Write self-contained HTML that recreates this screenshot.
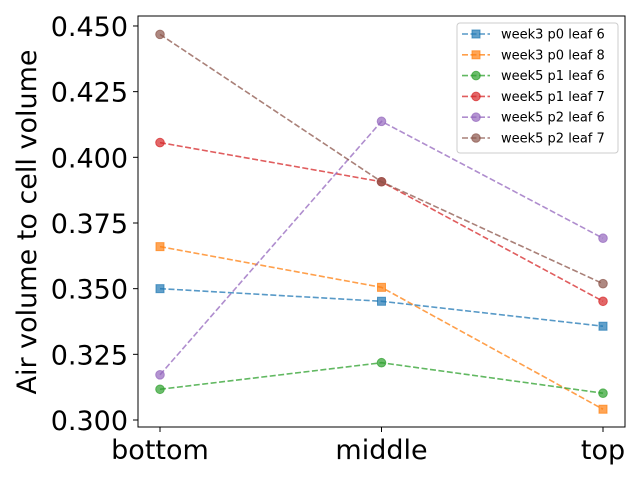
<!DOCTYPE html>
<html><head><meta charset="utf-8"><style>
body{margin:0;background:#fff;}
svg{display:block;font-family:"DejaVu Sans","Liberation Sans",sans-serif;}
</style></head><body>
<svg id="chart" width="640" height="480">
<rect x="138" y="16" width="487" height="411" fill="none" stroke="#000" stroke-width="1"/>
<g id="yticks"></g><g id="xticks"></g><g id="series"></g>
<text x="36" y="222" font-size="27" text-anchor="middle" transform="rotate(-90 36 222)">Air volume to cell volume</text>
<g id="legend">
<rect x="457" y="23" width="161" height="130" fill="#fff" fill-opacity="0.8" stroke="#ccc" rx="3"/>
</g>
</svg>
<script>
const categories=["bottom","middle","top"];
const yTicks=[0.300,0.325,0.350,0.375,0.400,0.425,0.450];
const seriesNames=["week3 p0 leaf 6","week3 p0 leaf 8","week5 p1 leaf 6","week5 p1 leaf 7","week5 p2 leaf 6","week5 p2 leaf 7"];
const s0=[0.3500,0.3452,0.3357];
const s1=[0.3660,0.3505,0.3041];
const s2=[0.3117,0.3218,0.3102];
const s3=[0.4056,0.3907,0.3452];
const s4=[0.3172,0.4137,0.3692];
const s5=[0.4468,0.3907,0.3519];
const allSeries=[s0,s1,s2,s3,s4,s5];
const colors=["#1f77b4","#ff7f0e","#2ca02c","#d62728","#9467bd","#8c564b"];
const markers=["s","s","o","o","o","o"];
const NS="http://www.w3.org/2000/svg";
function y(v){return 420-(v-0.3)/0.025*65.67;}
function x(i){return 160+i*221.5;}
function mk(t,a,p){const e=document.createElementNS(NS,t);for(const k in a)e.setAttribute(k,a[k]);p.appendChild(e);return e;}
const yt=document.getElementById('yticks');
yTicks.forEach(v=>{
 const l=mk('line',{x1:133,x2:138,y1:y(v),y2:y(v),stroke:'#000'},yt);
 
 
 const t=mk('text',{x:128,y:y(v)+10,'font-size':27,'text-anchor':'end'},yt);
 t.textContent=v.toFixed(3);
 
 
});
const xt=document.getElementById('xticks');
categories.forEach((c,i)=>{
 const l=mk('line',{x1:x(i),x2:x(i),y1:427,y2:432,stroke:'#000'},xt);
 
 
 const t=mk('text',{x:x(i),y:459,'font-size':27,'text-anchor':'middle'},xt);
 t.textContent=c;
 
 
});
function marker(kind,cx,cy,col,p){
 let e;
 if(kind==='s')e=mk('rect',{x:cx-4,y:cy-4,width:8,height:8,fill:col,'fill-opacity':0.7,stroke:col,'stroke-opacity':0.7},p);
 else e=mk('circle',{cx:cx,cy:cy,r:4.3,fill:col,'fill-opacity':0.7,stroke:col,'stroke-opacity':0.7},p);
 return e;
}
const sg=document.getElementById('series');
allSeries.forEach((s,k)=>{
 const g=mk('g',{},sg);
 
 
 mk('polyline',{points:s.map((v,i)=>x(i)+','+y(v)).join(' '),fill:'none',stroke:colors[k],'stroke-width':1.6,'stroke-dasharray':'6,2.5','stroke-opacity':0.75},g);
 s.forEach((v,i)=>{const m=marker(markers[k],x(i),y(v),colors[k],g);
  
  });
});
const lg=document.getElementById('legend');
seriesNames.forEach((n,k)=>{
 const yy=34+k*20.8;
 const g=mk('g',{},lg);
 
 
 mk('line',{x1:462,x2:490,y1:yy,y2:yy,stroke:colors[k],'stroke-width':1.6,'stroke-dasharray':'6,2.5','stroke-opacity':0.75},g);
 marker(markers[k],476,yy,colors[k],g);
 const t=mk('text',{x:501,y:yy+4.5,'font-size':13},g);
 t.textContent=n;
});
</script>
</body></html>
